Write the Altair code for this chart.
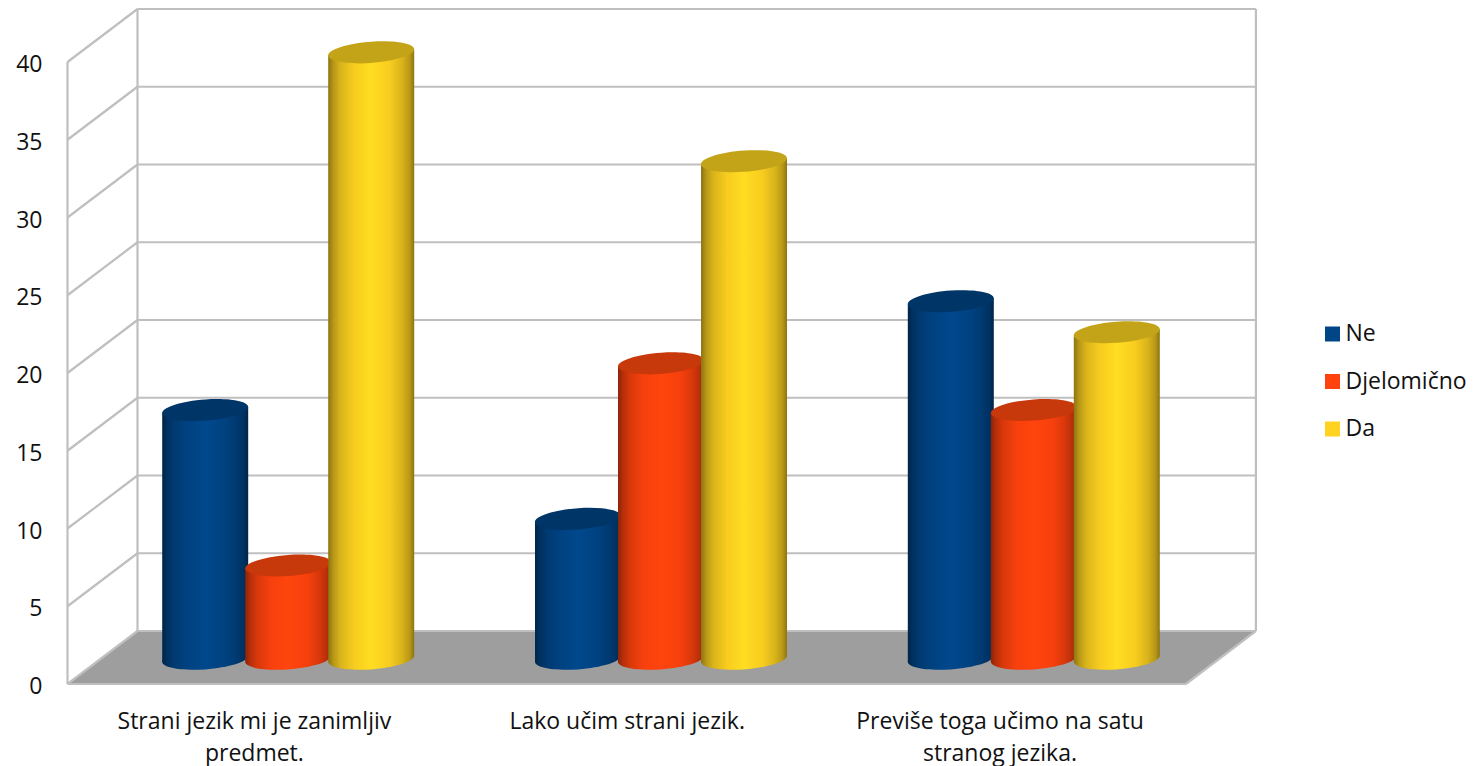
import altair as alt
import pandas as pd

categories = ["Strani jezik mi je zanimljiv|predmet.", "Lako učim strani jezik.", "Previše toga učimo na satu|stranog jezika."]
series = ["Ne", "Djelomično", "Da"]
values_ne = [16, 9, 23]
values_djelomicno = [6, 19, 16]
values_da = [39, 32, 21]
base_colors = ["#004586", "#FF420E", "#FFD320"]
top_colors = ["#003567", "#C7380B", "#C3A418"]
ticks = [0, 5, 10, 15, 20, 25, 30, 35, 40]

FONT = "Open Sans"
FS = 23
PX_BAND = 372.8
PX_UNIT = 15.55
W, H = 1404.5, 676
DU = 70 / PX_BAND          # depth of the box in category units
DV = 53 / PX_UNIT          # depth of the box in value units
V0 = 1.62                  # cylinder base level
HALF = 43 / PX_BAND        # half width of a cylinder
STEP = 83 / PX_BAND        # distance between cylinders
SHIFT = -0.7 / PX_BAND     # small sideways nudge of the cylinders
TILT = 3 / PX_UNIT         # skew of the elliptical ends
SHADES = [(0, .55), (.06, .72), (.14, .85), (.3, .97), (.5, 1.05), (.72, .97), (.86, .85), (.95, .72), (1, .55)]
ELLIPSE = "M-1,0.07 A1,0.245,-4.3,1,1,1,-0.07 A1,0.245,-4.3,1,1,-1,0.07 Z"

x_scale = alt.Scale(domain=[0, W / PX_BAND], range=[0, W], nice=False, zero=False)
y_scale = alt.Scale(domain=[0, H / PX_UNIT], range=[H, 0], nice=False, zero=False)
x_axis = alt.Axis(
    values=[0.5, 1.5, 2.5], title=None, grid=False, domain=False, ticks=False,
    labelFont=FONT, labelFontSize=FS, labelColor="#111111", labelPadding=26, labelLimit=420,
    labelLineHeight=32, labelAlign="center", labelOverlap=False,
    labelExpr="split(%r[round(datum.value - 0.5)], '|')" % (categories,),
)
y_axis = alt.Axis(
    values=ticks, title=None, grid=False, domain=False, ticks=False,
    labelFont=FONT, labelFontSize=FS, labelColor="#111111", labelPadding=25.5,
    labelOffset=2.5, labelOverlap=False,
)
X = lambda f="x": alt.X(f, type="quantitative", scale=x_scale, axis=x_axis)
Y = lambda f="y": alt.Y(f, type="quantitative", scale=y_scale, axis=y_axis, stack=None)


def shade(hex_color, k):
    r, g, b = (int(hex_color[i:i + 2], 16) for i in (1, 3, 5))
    return "#%02x%02x%02x" % (min(int(r * k), 255), min(int(g * k), 255), min(int(b * k), 255))


def gradient(color):
    return alt.LinearGradient(
        gradient="linear", x1=0, x2=1, y1=0, y2=0,
        stops=[alt.GradientStop(offset=o, color=shade(color, k)) for o, k in SHADES],
    )


floor = pd.DataFrame({"x": [0, DU, 3, 3 + DU], "y": [0, DV, DV, DV], "y2": [0, 0, 0, DV]})
seg = []
for t in ticks:
    seg.append(dict(x=0, x2=DU, y=t, y2=t + DV))
    seg.append(dict(x=DU, x2=3 + DU, y=t + DV, y2=t + DV))
seg += [
    dict(x=0, x2=0, y=0, y2=40),
    dict(x=DU, x2=DU, y=DV, y2=40 + DV),
    dict(x=3 + DU, x2=3 + DU, y=DV, y2=40 + DV),
    dict(x=0, x2=3, y=0, y2=0),
    dict(x=3, x2=3 + DU, y=0, y2=DV),
]
segments = pd.DataFrame(seg)

layers = [
    alt.Chart(floor).mark_area(color="#9E9E9E").encode(x=X(), y=Y(), y2="y2:Q"),
    alt.Chart(segments).mark_rule(color="#BFBFBF", strokeWidth=2.2).encode(
        x=X(), x2="x2:Q", y=Y(), y2="y2:Q"
    ),
]

rows = []
for s_i, (name, vals) in enumerate(zip(series, [values_ne, values_djelomicno, values_da])):
    for c_i, v in enumerate(vals):
        rows.append(dict(series=name, s=s_i, c=c_i, value=v,
                         cx=c_i + 0.5 + DU / 2 + (s_i - 1) * STEP + SHIFT))
df = pd.DataFrame(rows)

# real legend, driven by tiny points hidden behind the cylinders
legend_df = df.assign(mid=V0 + 1)
layers.append(
    alt.Chart(legend_df).mark_point(filled=True, size=1, opacity=1, shape="square").encode(
        x=X("cx"), y=Y("mid"),
        color=alt.Color("series:N", scale=alt.Scale(domain=series, range=base_colors), legend=alt.Legend(
            title=None, orient="none", legendX=1253.5, legendY=314.5, symbolType="square", symbolSize=225,
            symbolStrokeWidth=0, labelFont=FONT, labelFontSize=FS, labelColor="#111111", rowPadding=23.5,
            labelOffset=1.5, symbolOpacity=1,
        )),
    )
)

for s_i, name in enumerate(series):
    d = df[df["s"] == s_i]
    grad = gradient(base_colors[s_i])
    base = d.assign(y=V0, x=d["cx"])
    top = d.assign(x=d["cx"], y=d["value"] + V0)
    layers.append(alt.Chart(base).mark_point(shape=ELLIPSE, size=86 ** 2, filled=True, fill=grad, opacity=1).encode(x=X(), y=Y()))
    for _, r in d.iterrows():
        body = pd.DataFrame({
            "x": [r["cx"] - HALF, r["cx"] + HALF],
            "y": [r["value"] + V0 - TILT, r["value"] + V0 + TILT],
            "y2": [V0 - TILT, V0 + TILT],
        })
        layers.append(alt.Chart(body).mark_area(color=grad).encode(x=X(), y=Y(), y2="y2:Q"))
    layers.append(alt.Chart(top).mark_point(shape=ELLIPSE, size=86 ** 2, filled=True, fill=top_colors[s_i], opacity=1).encode(x=X(), y=Y()))

chart = alt.layer(*layers).properties(
    width=W, height=H,
    padding={"left": 59.5, "right": 0, "top": 0, "bottom": 82},
    autosize=alt.AutoSizeParams(type="none"),
    background="white",
).configure_view(stroke=None)

chart.save("out.html", embed_options={"renderer": "svg", "actions": False})
